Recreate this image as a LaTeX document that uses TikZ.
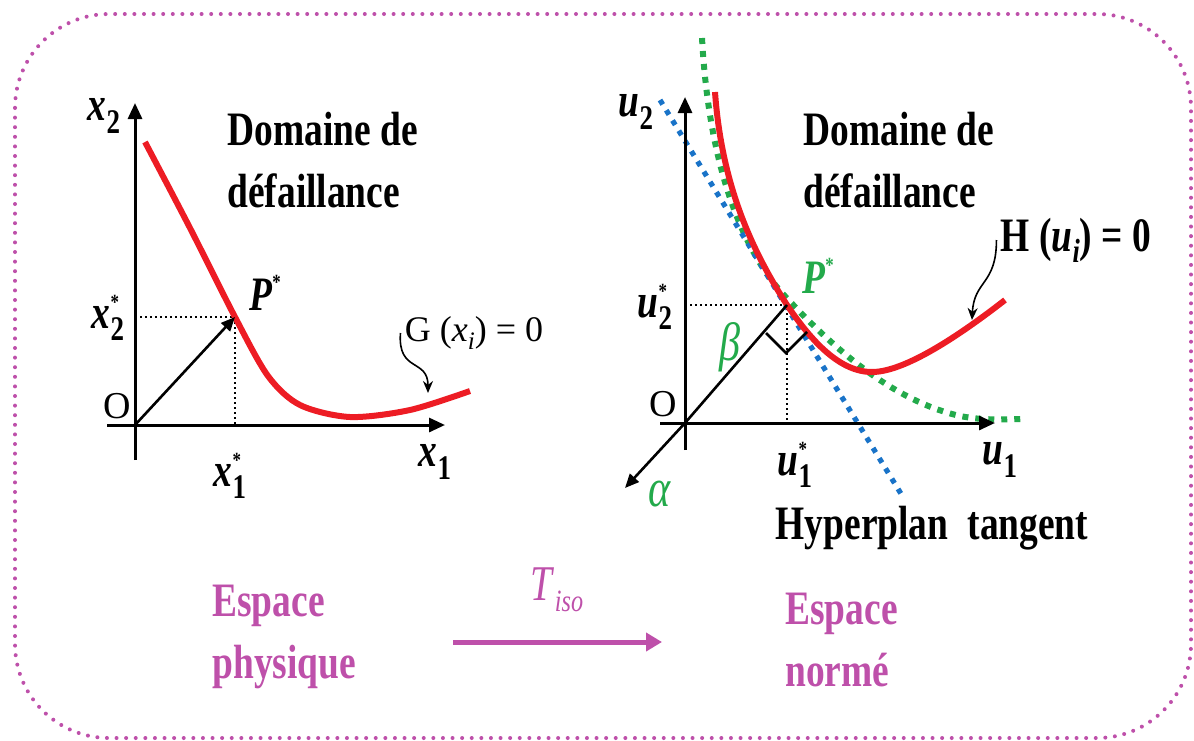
\documentclass[tikz,border=0pt]{standalone}
\usepackage{fontspec}
\setmainfont{Liberation Serif}[FakeStretch=0.78]
\newfontfamily\plainserif{Liberation Serif}
\usetikzlibrary{arrows.meta,calc}
\definecolor{failred}{RGB}{237,28,36}
\definecolor{dotgreen}{RGB}{35,170,75}
\definecolor{dotblue}{RGB}{25,115,200}
\definecolor{mauve}{RGB}{190,80,170}
\newcommand{\varlab}[3]{\textit{#1}\rlap{\raisebox{0.85ex}{\scalebox{0.45}{#3}}}\raisebox{-0.55ex}{\scalebox{0.72}{#2}}}

\begin{document}
\begin{tikzpicture}[x=0.5pt,y=-0.5pt,
  frame/.style={draw=mauve,line width=2pt,dash pattern=on 0pt off 4.8pt,line cap=round,rounded corners=47pt},
  axis/.style={line width=1.5pt,-{Triangle[length=8pt,width=7pt]}},
  guide/.style={line width=1.1pt,dash pattern=on 1.2pt off 1.3pt},
  limit/.style={draw=failred,line width=3pt},
  approx/.style={draw=dotgreen,line width=3pt,dash pattern=on 3pt off 3.5pt},
  tangent/.style={draw=dotblue,line width=2.6pt,dash pattern=on 2.6pt off 3.4pt},
  vec/.style={line width=1.3pt,-{Triangle[length=7pt,width=6pt]}},
  hook/.style={line width=0.8pt,-{Stealth[length=6pt,width=5pt]}},
  transfo/.style={draw=mauve,line width=2.5pt,-{Triangle[length=8pt,width=9pt]}},
  txt/.style={font=\bfseries\fontsize{24}{31}\selectfont,inner sep=0pt},
  sym/.style={font=\bfseries\fontsize{24}{28}\selectfont,inner sep=0pt},
  orig/.style={font=\plainserif\fontsize{19}{22}\selectfont,inner sep=0pt},
  greek/.style={font=\fontsize{27}{30}\selectfont,text=dotgreen,inner sep=0pt},
  space/.style={txt,text=mauve,align=left,anchor=west}]

\useasboundingbox (0,0) rectangle (1194,740);
\path[frame] (15,14) rectangle (1191,738);

% espace physique
\coordinate (O1) at (135,425);
\coordinate (P1) at (235,317);
\coordinate (X1a) at (107,425);
\coordinate (X1b) at (445,425);
\coordinate (X2a) at (135,460);
\coordinate (X2b) at (135,103);
\coordinate (G1) at (428,393);
\draw[guide] (O1 |- P1) -- (P1) -- (P1 |- O1);
\draw[limit] plot[smooth] coordinates {(145,142) (190,228) (235,317) (268,376) (300,405) (350,417) (410,410) (470,391)};
\draw[axis] (X1a) -- (X1b);
\draw[axis] (X2a) -- (X2b);
\draw[vec] (O1) -- (P1);

\node[sym] (x2) at (104,116) {\varlab{x}{2}{}};
\node[sym] (x2s) at (108,318) {\varlab{x}{2}{*}};
\node[orig] (o1) at (117,406) {O};
\node[sym] (x1s) at (230,476) {\varlab{x}{1}{*}};
\node[sym] (x1) at (435,462) {\varlab{x}{1}{}};
\node[sym] (p1) at (265,293) {\textit{P}\raisebox{0.95ex}{\scalebox{0.45}{*}}};
\node[txt,align=left,anchor=west] (dom1) at (227,160) {Domaine de\\défaillance};
\node[font=\plainserif\fontsize{18}{20}\selectfont,inner sep=2pt] (glab) at (474,333) {G (\textit{x}\raisebox{-0.5ex}{\scalebox{0.7}{\textit{i}}}) = 0};
\draw[hook] (glab.west) .. controls +(-3,40) and +(0,-35) .. (G1);

% espace norme
\coordinate (O2) at (685,423);
\coordinate (P2) at (787,305);
\coordinate (U1a) at (660,423);
\coordinate (U1b) at (995,423);
\coordinate (U2a) at (685,450);
\coordinate (U2b) at (685,97);
\coordinate (T0) at (660,100);
\coordinate (T1) at (903,497);
\coordinate (Al) at (625,488);
\coordinate (RA) at (766,333);
\coordinate (RC) at (786,353);
\coordinate (RB) at (807,332);
\coordinate (H1) at (972,320);
\draw[approx] (702,38) .. controls (708,150) and (735,240) .. (782,293)
  .. controls (830,345) and (890,400) .. (960,416) .. controls (985,421) and (1005,419) .. (1027,419);
\draw[tangent] (T0) -- (T1);
\draw[guide] (O2 |- P2) -- (P2) -- (P2 |- O2);
\draw[limit] (715,92) .. controls (722,190) and (755,255) .. (P2)
  .. controls (812,342) and (840,372) .. (872,372) .. controls (905,372) and (960,335) .. (1005,300);
\draw[axis] (U1a) -- (U1b);
\draw[axis] (U2a) -- (U2b);
\draw[line width=1.3pt] (O2) -- (P2);
\draw[line width=1.3pt] (RA) -- (RC) -- (RB);
\draw[vec] (O2) -- (Al);

\node[sym] (u2) at (636,112) {\varlab{u}{2}{}};
\node[sym] (u2s) at (655,307) {\varlab{u}{2}{*}};
\node[orig] (o2) at (663,404) {O};
\node[sym] (u1s) at (795,465) {\varlab{u}{1}{*}};
\node[sym] (u1) at (1000,460) {\varlab{u}{1}{}};
\node[greek] (alpha) at (660,494) {\textit{α}};
\node[greek] (beta) at (730,347) {\textit{β}};
\node[sym,text=dotgreen] (p2) at (818,276) {\textit{P}\raisebox{0.95ex}{\scalebox{0.45}{*}}};
\node[txt,align=left,anchor=west] (dom2) at (803,160) {Domaine de\\défaillance};
\node[txt,inner sep=2pt] (hlab) at (1076,240) {H (\textit{u}\raisebox{-0.5ex}{\scalebox{0.7}{\textit{i}}}) = 0};
\node[txt] (hyp) at (932,528) {Hyperplan\hspace{0.4em}tangent};
\draw[hook] (hlab.west) .. controls +(0,45) and +(2,-40) .. (H1);

% transformation
\coordinate (tr0) at (453,642);
\coordinate (tr1) at (662,642);
\node[space] (phys) at (212,637) {Espace\\physique};
\node[space] (norm) at (785,640) {Espace\\normé};
\node[font=\fontsize{25}{28}\selectfont,text=mauve] (tiso) at (557,590) {\textit{T}\raisebox{-0.5ex}{\scalebox{0.62}{\textit{iso}}}};
\draw[transfo] (tr0) -- (tr1);
\end{tikzpicture}
\end{document}
